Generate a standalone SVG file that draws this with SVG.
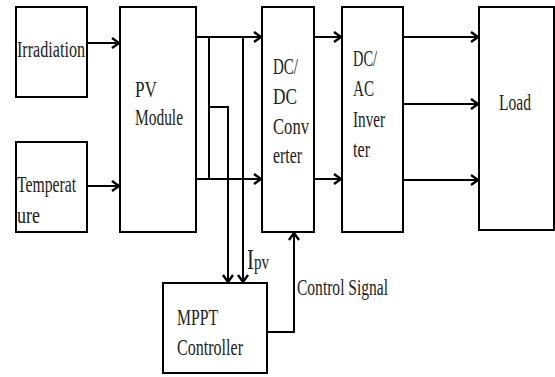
<svg xmlns="http://www.w3.org/2000/svg" width="555" height="377" viewBox="0 0 555 377">
<style>
  .box{fill:#fff;stroke:#000;stroke-width:2}
  .t{font-family:"Liberation Serif","Times New Roman",serif;font-size:24px;fill:#222}
  .c{fill:none;stroke:#000;stroke-width:2}
</style>
<defs>
  <marker id="ah" markerUnits="userSpaceOnUse" markerWidth="12" markerHeight="12" refX="9" refY="6" orient="auto" overflow="visible">
    <path d="M2,1 L9,6 L2,11" fill="none" stroke="#000" stroke-width="2.4"/>
  </marker>
</defs>
<rect width="555" height="377" fill="#fff"/>
<g id="irradiation">
  <rect class="box" x="16" y="7" width="71" height="90"/>
  <text class="t" x="17" y="57" textLength="68" lengthAdjust="spacingAndGlyphs">Irradiation</text>
</g>
<g id="temperature">
  <rect class="box" x="16" y="142" width="71" height="90"/>
  <text class="t" x="17" y="192" textLength="59" lengthAdjust="spacingAndGlyphs">Temperat</text>
  <text class="t" x="17" y="223" textLength="23" lengthAdjust="spacingAndGlyphs">ure</text>
</g>
<g id="pv-module">
  <rect class="box" x="120" y="7" width="76" height="225"/>
  <text class="t" x="135" y="97" textLength="22" lengthAdjust="spacingAndGlyphs">PV</text>
  <text class="t" x="135" y="125" textLength="48" lengthAdjust="spacingAndGlyphs">Module</text>
</g>
<g id="dcdc">
  <rect class="box" x="262" y="7" width="52" height="225"/>
  <text class="t" x="273" y="74" textLength="25" lengthAdjust="spacingAndGlyphs">DC/</text>
  <text class="t" x="273" y="104" textLength="24" lengthAdjust="spacingAndGlyphs">DC</text>
  <text class="t" x="273" y="134" textLength="36" lengthAdjust="spacingAndGlyphs">Conv</text>
  <text class="t" x="273" y="163" textLength="29" lengthAdjust="spacingAndGlyphs">erter</text>
</g>
<g id="dcac">
  <rect class="box" x="342" y="7" width="61" height="225"/>
  <text class="t" x="353" y="66" textLength="24" lengthAdjust="spacingAndGlyphs">DC/</text>
  <text class="t" x="353" y="96" textLength="21" lengthAdjust="spacingAndGlyphs">AC</text>
  <text class="t" x="353" y="127" textLength="32" lengthAdjust="spacingAndGlyphs">Inver</text>
  <text class="t" x="353" y="157" textLength="17" lengthAdjust="spacingAndGlyphs">ter</text>
</g>
<g id="load">
  <rect class="box" x="479" y="7" width="75" height="223"/>
  <text class="t" x="499" y="110" textLength="32" lengthAdjust="spacingAndGlyphs">Load</text>
</g>
<g id="mppt">
  <rect class="box" x="163" y="283" width="104" height="90"/>
  <text class="t" x="177" y="325" textLength="41" lengthAdjust="spacingAndGlyphs">MPPT</text>
  <text class="t" x="177" y="355" textLength="66" lengthAdjust="spacingAndGlyphs">Controller</text>
</g>
<g id="connectors">
  <path class="c" d="M87,43 H119" marker-end="url(#ah)"/>
  <path class="c" d="M87,186 H119" marker-end="url(#ah)"/>
  <path class="c" d="M196,37 H261" marker-end="url(#ah)"/>
  <path class="c" d="M196,179 H261" marker-end="url(#ah)"/>
  <path class="c" d="M209,37 V179"/>
  <path class="c" d="M209,107 H228 V282" marker-end="url(#ah)"/>
  <path class="c" d="M243,37 V282" marker-end="url(#ah)"/>
  <path class="c" d="M314,37 H341" marker-end="url(#ah)"/>
  <path class="c" d="M314,179 H341" marker-end="url(#ah)"/>
  <path class="c" d="M403,37 H478" marker-end="url(#ah)"/>
  <path class="c" d="M403,104 H478" marker-end="url(#ah)"/>
  <path class="c" d="M403,180 H478" marker-end="url(#ah)"/>
  <path class="c" d="M267,332 H294 V233" marker-end="url(#ah)"/>
  <text class="t" transform="translate(247,269) scale(0.69,1)"><tspan font-size="30">I</tspan><tspan font-size="22">pv</tspan></text>
  <text class="t" x="297" y="295" textLength="91" lengthAdjust="spacingAndGlyphs">Control Signal</text>
</g>
</svg>
